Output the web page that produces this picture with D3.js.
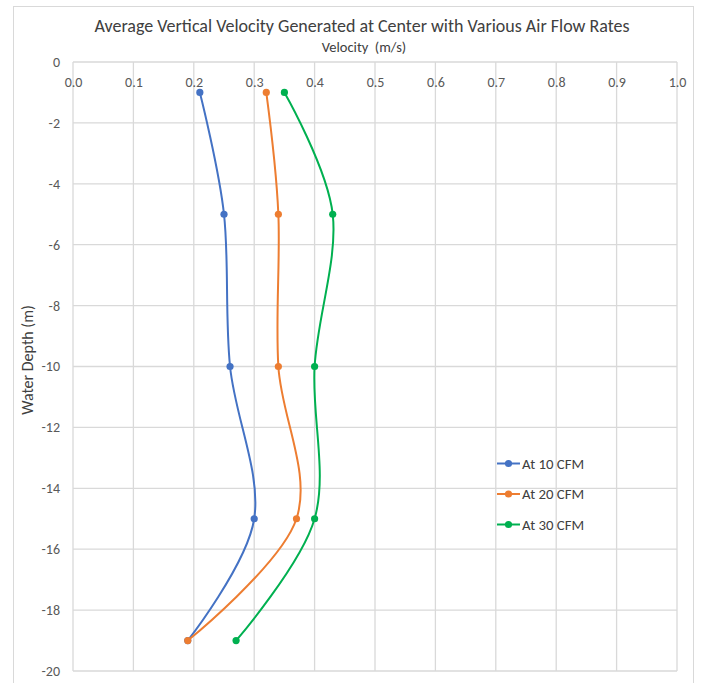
<!DOCTYPE html>
<html>
<head>
<meta charset="utf-8">
<script src="https://cdn.jsdelivr.net/npm/d3@7"></script>
<style>
  html, body { margin: 0; padding: 0; background: #fff; }
  svg { display: block; font-family: Carlito, Calibri, "Open Sans", sans-serif; }
</style>
</head>
<body>
<svg id="chart" width="703" height="683"></svg>
<script>
// Depth of each measurement (m)
const depths = [-1, -5, -10, -15, -19];
// Average vertical velocity at each depth (m/s)
const cfm10 = [0.21, 0.25, 0.26, 0.30, 0.19];
const cfm20 = [0.32, 0.34, 0.34, 0.37, 0.19];
const cfm30 = [0.35, 0.43, 0.40, 0.40, 0.27];
const seriesNames = ["At 10 CFM", "At 20 CFM", "At 30 CFM"];
const seriesColors = ["#4472C4", "#ED7D31", "#00B050"];
const xTicks = [0.0, 0.1, 0.2, 0.3, 0.4, 0.5, 0.6, 0.7, 0.8, 0.9, 1.0];
const yTicks = [0, -2, -4, -6, -8, -10, -12, -14, -16, -18, -20];

const series = [cfm10, cfm20, cfm30].map((vals, i) => ({
  name: seriesNames[i],
  color: seriesColors[i],
  points: vals.map((v, j) => ({ v, d: depths[j] }))
}));

const FONT = "Carlito, Calibri, 'Open Sans', sans-serif";
const svg = d3.select("#chart");
const plot = { left: 73, top: 62, right: 677, bottom: 671 };

// chart frame
svg.append("rect")
  .attr("x", 13.5).attr("y", 6.5)
  .attr("width", 680).attr("height", 700)
  .attr("fill", "#fff").attr("stroke", "#d9d9d9").attr("stroke-width", 1);

const x = d3.scaleLinear().domain([0, 1]).range([plot.left, plot.right]);
const y = d3.scaleLinear().domain([0, -20]).range([plot.top, plot.bottom]);

// gridlines
const grid = svg.append("g").attr("stroke", "#d9d9d9").attr("stroke-width", 1.3);
grid.selectAll("line.v").data(xTicks).join("line")
  .attr("x1", d => x(d)).attr("x2", d => x(d))
  .attr("y1", plot.top).attr("y2", plot.bottom);
grid.selectAll("line.h").data(yTicks).join("line")
  .attr("x1", plot.left).attr("x2", plot.right)
  .attr("y1", d => y(d)).attr("y2", d => y(d));

// x axis labels sit just below the top axis line
const xAxis = d3.axisTop(x).tickValues(xTicks).tickFormat(d3.format(".1f")).tickSize(0).tickPadding(0);
const gx = svg.append("g").attr("transform", `translate(0,${plot.top + 25})`).call(xAxis);
gx.select(".domain").remove();
gx.selectAll("text").attr("fill", "#595959").attr("font-size", 14).attr("font-family", FONT);

// y axis labels
const yAxis = d3.axisLeft(y).tickValues(yTicks).tickFormat(d => String(d)).tickSize(0).tickPadding(13);
const gy = svg.append("g").attr("transform", `translate(${plot.left},0)`).call(yAxis);
gy.select(".domain").remove();
gy.selectAll("text").attr("fill", "#595959").attr("font-size", 14).attr("font-family", FONT);

// titles
svg.append("text").attr("x", 362).attr("y", 32).attr("text-anchor", "middle")
  .attr("font-size", 18).attr("fill", "#404040")
  .text("Average Vertical Velocity Generated at Center with Various Air Flow Rates");
svg.append("text").attr("x", 364).attr("y", 52).attr("text-anchor", "middle")
  .attr("font-size", 14.5).attr("fill", "#404040").attr("xml:space", "preserve")
  .text("Velocity  (m/s)");
svg.append("text").attr("transform", `translate(33,360) rotate(-90)`).attr("text-anchor", "middle")
  .attr("font-size", 16).attr("fill", "#404040")
  .text("Water Depth (m)");

// smoothed series lines and markers
const line = d3.line().x(p => x(p.v)).y(p => y(p.d)).curve(d3.curveCardinal.tension(0));
const gs = svg.append("g");
series.forEach(s => {
  gs.append("path").datum(s.points)
    .attr("d", line).attr("fill", "none")
    .attr("stroke", s.color).attr("stroke-width", 2).attr("stroke-linecap", "round");
  gs.selectAll(null).data(s.points).join("circle")
    .attr("cx", p => x(p.v)).attr("cy", p => y(p.d)).attr("r", 3.6)
    .attr("fill", s.color);
});

// legend
const legend = svg.append("g");
series.forEach((s, i) => {
  const ly = 463.5 + i * 30.5;
  legend.append("line").attr("x1", 497).attr("x2", 520).attr("y1", ly).attr("y2", ly)
    .attr("stroke", s.color).attr("stroke-width", 2);
  legend.append("circle").attr("cx", 508.5).attr("cy", ly).attr("r", 3.6).attr("fill", s.color);
  legend.append("text").attr("x", 522).attr("y", ly + 5)
    .attr("font-size", 14.8).attr("fill", "#404040").text(s.name);
});
</script>
</body>
</html>
